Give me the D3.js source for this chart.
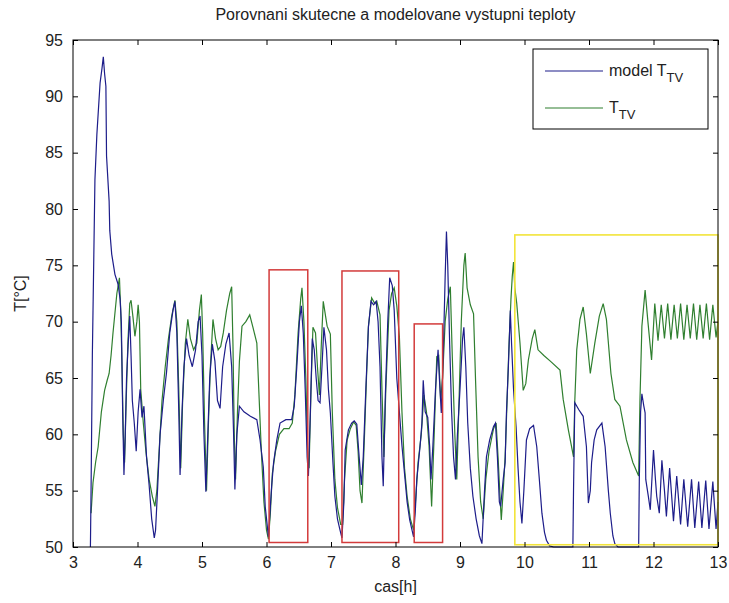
<!DOCTYPE html>
<html>
<head>
<meta charset="utf-8">
<script src="https://cdn.jsdelivr.net/npm/d3@7"></script>
<style>
  body { margin: 0; background: #fff; }
  text { font-family: "Liberation Sans", Arial, sans-serif; }
</style>
</head>
<body>
<div id="chart"></div>
<script>
const CMODEL = '#1d1d8a'
const CMEAS = '#2f7f2f'
const CRED = '#d33b3b'
const CYELLOW = '#f2e43a'

// time [h] , temperature [°C]
const modelT = [
  [3.27,50],[3.28,55],[3.30,67],[3.34,82.6],[3.37,86.6],[3.42,91.2],[3.45,92.5],[3.47,93.5],[3.49,92],
  [3.51,90.9],[3.52,84.7],[3.56,80.7],[3.57,78.1],[3.60,76],[3.65,74.2],[3.70,73.3],[3.73,72],[3.75,69.9],
  [3.77,62],[3.79,56.4],[3.81,60],[3.83,65],[3.86,68.5],[3.88,70.5],[3.90,67],[3.92,63],[3.95,61],
  [3.98,58.5],[4.01,62],[4.04,64],[4.07,61.5],[4.10,62.5],[4.14,58],[4.18,55.5],[4.22,52.5],[4.26,50.8],
  [4.28,51.5],[4.31,55],[4.35,60],[4.40,63],[4.45,65.5],[4.50,69],[4.55,71],[4.58,71.8],[4.61,69],
  [4.64,62],[4.66,56.4],[4.69,62],[4.72,66],[4.76,68.5],[4.80,67],[4.85,66],[4.90,67.5],[4.94,70],
  [4.97,70.5],[5.00,67],[5.03,60],[5.06,54.9],[5.09,60],[5.12,65],[5.16,68],[5.20,66.5],[5.24,63],
  [5.28,62.3],[5.32,66],[5.37,68],[5.42,69],[5.46,66],[5.49,60],[5.51,55.1],[5.54,60],[5.58,62.5],
  [5.65,62],[5.75,61.6],[5.85,61.3],[5.90,59.5],[5.95,57.1],[5.98,53.6],[6.03,50.9],[6.08,55.4],
  [6.11,57.5],[6.16,59.5],[6.21,61],[6.30,61.3],[6.39,61.3],[6.43,62.5],[6.47,66],[6.51,70],[6.54,71.4],
  [6.57,69],[6.60,64],[6.63,58],[6.65,56.3],[6.68,62],[6.71,68.5],[6.74,67.5],[6.77,65],[6.80,63],
  [6.83,62.8],[6.86,66],[6.89,69.5],[6.93,67.5],[6.96,64],[6.99,61.9],[7.03,57.5],[7.06,54.5],
  [7.10,52.5],[7.14,51.5],[7.17,50.8],[7.20,54],[7.22,58.6],[7.27,60.4],[7.32,61],[7.36,61.2],
  [7.40,60.9],[7.43,58.5],[7.47,55.5],[7.50,58],[7.54,64],[7.58,69.5],[7.62,71.8],[7.66,71.5],
  [7.70,71.8],[7.73,70],[7.76,66],[7.79,58],[7.81,55.4],[7.84,63],[7.88,70],[7.91,73.9],[7.95,73.2],
  [7.98,71],[8.02,65],[8.06,62],[8.10,59],[8.14,56.5],[8.18,54],[8.22,52.4],[8.28,50.9],[8.31,53.5],
  [8.33,56],[8.38,58.9],[8.41,61],[8.43,64.8],[8.46,62],[8.50,61.5],[8.53,58.9],[8.55,56],[8.58,59],
  [8.62,64],[8.66,67.5],[8.68,65],[8.71,61.9],[8.74,67],[8.77,74],[8.79,78],[8.81,75],[8.84,68],
  [8.87,62],[8.90,58],[8.93,56],[8.96,60],[9.00,64],[9.04,68.5],[9.06,69.5],[9.09,66],[9.12,61],
  [9.16,57],[9.20,54.5],[9.25,52.5],[9.30,51],[9.34,50.3],[9.38,55],[9.41,58],[9.46,59.5],[9.52,60.7],
  [9.55,61],[9.58,58],[9.61,54],[9.63,53.6],[9.67,56],[9.70,57.5],[9.72,61.9],[9.75,66],[9.78,71],
  [9.80,68],[9.83,64],[9.87,60.6],[9.90,57],[9.93,54],[9.96,52.1],[9.99,55],[10.03,59.5],[10.08,60.5],
  [10.14,60.8],[10.19,58.9],[10.23,56],[10.27,53],[10.31,51.3],[10.34,50.6],[10.39,50.1],[10.45,50],
  [10.75,50],[10.76,55],[10.78,62.8],[10.84,62.2],[10.91,61.6],[10.96,58.9],[10.99,53.9],[11.02,55],
  [11.04,57.5],[11.08,59.5],[11.12,60.4],[11.20,61],[11.25,58.9],[11.30,55],[11.33,53],[11.37,51],
  [11.40,50.3],[11.45,50],[11.77,50],[11.78,56],[11.80,62],[11.82,63.6],[11.85,62.5],[11.87,61.9],
  [11.88,56],[11.92,54.5],[11.95,53.3],[11.98,56.5],[12.00,58.6],[12.03,56],[12.05,54.5],[12.09,53],
  [12.13,57.7],[12.17,55],[12.20,52.7],[12.25,57],[12.31,52.3],[12.36,56.3],[12.42,52],[12.47,56],
  [12.53,51.8],[12.59,56],[12.64,51.7],[12.70,55.8],[12.75,51.7],[12.81,55.9],[12.86,51.6],
  [12.92,55.8],[12.97,51.6],[13.0,54]
]

const measuredT = [
  [3.28,53],[3.31,55.7],[3.35,57.5],[3.39,58.9],[3.44,62],[3.49,63.9],[3.53,64.8],[3.56,65.4],[3.59,67],
  [3.62,69],[3.68,72.5],[3.72,73.9],[3.74,71],[3.76,66],[3.78,60],[3.80,57.5],[3.82,62],[3.85,68],
  [3.88,71.6],[3.90,71.9],[3.93,70.4],[3.96,68.7],[3.99,70],[4.01,71.5],[4.03,70],[4.05,64],[4.09,61],
  [4.13,58.5],[4.18,56],[4.23,54.5],[4.27,53.6],[4.30,55],[4.34,59],[4.38,63],[4.43,66],[4.48,68.5],
  [4.53,70.5],[4.58,71.9],[4.61,70],[4.64,64],[4.67,57],[4.70,63],[4.74,68],[4.78,70.2],[4.82,68.5],
  [4.87,67.5],[4.92,68.1],[4.96,71],[4.99,72.4],[5.01,69],[5.04,61],[5.07,55],[5.10,61],[5.13,66],
  [5.17,70.2],[5.21,68.5],[5.25,67.5],[5.29,67.8],[5.33,69],[5.38,71],[5.43,72.5],[5.46,73.1],[5.48,68],
  [5.50,60],[5.52,56],[5.55,62],[5.58,66.5],[5.62,69.6],[5.68,70],[5.74,70.6],[5.79,69.5],[5.85,68.1],
  [5.88,64],[5.92,58.5],[5.96,54],[6.00,51.5],[6.03,50.7],[6.06,53],[6.09,56.5],[6.14,58.5],[6.20,60],
  [6.27,60.5],[6.35,60.5],[6.40,61],[6.44,63.5],[6.49,69],[6.53,72],[6.55,73],[6.58,70],[6.61,65],
  [6.64,58],[6.66,57],[6.69,64],[6.72,69.5],[6.76,69],[6.79,66],[6.82,63.5],[6.85,68],[6.88,71.8],
  [6.94,69.6],[6.99,68.9],[7.02,62],[7.06,56],[7.10,53.5],[7.15,52],[7.18,52],[7.21,56],[7.25,59.5],
  [7.30,60.5],[7.35,61.1],[7.39,60.8],[7.42,58.5],[7.45,55],[7.48,53.9],[7.52,60],[7.55,65],[7.58,69.6],
  [7.63,72.1],[7.68,71.6],[7.71,71.8],[7.76,70.6],[7.79,64],[7.82,58],[7.85,64],[7.90,71],[7.94,72.5],
  [7.98,73],[8.02,71.4],[8.06,68.7],[8.10,62],[8.14,57],[8.18,54.5],[8.23,52.5],[8.28,51.5],[8.31,54],
  [8.35,57.5],[8.40,60],[8.44,63.5],[8.48,62],[8.52,59],[8.56,53.6],[8.60,60],[8.64,66.9],[8.67,67],
  [8.70,63],[8.73,65],[8.77,70],[8.81,72],[8.85,73.1],[8.88,67],[8.92,60],[8.95,56],[8.98,62],[9.02,70],
  [9.06,75],[9.08,76.1],[9.11,73],[9.16,71.5],[9.21,70.7],[9.24,65],[9.28,58],[9.32,54],[9.36,52.5],
  [9.40,56],[9.45,58.5],[9.52,60.5],[9.56,61],[9.59,58],[9.62,54.5],[9.64,52.4],[9.67,55],[9.70,58],
  [9.73,63],[9.76,68],[9.79,72],[9.81,74],[9.83,75.3],[9.85,73],[9.88,71.6],[9.93,68.1],[9.98,63.9],
  [10.02,64.5],[10.06,66.6],[10.12,68.5],[10.16,69.3],[10.21,67.5],[10.30,67],[10.40,66.5],[10.55,65.7],
  [10.60,63.1],[10.68,60.4],[10.76,58.0],[10.78,63],[10.81,67.5],[10.86,70.2],[10.91,71.3],[10.96,68.9],
  [11.02,65.4],[11.09,68.1],[11.16,70.5],[11.22,71.6],[11.27,70.2],[11.34,65.4],[11.40,63.1],[11.48,62.5],
  [11.58,59.5],[11.68,57.5],[11.77,56.3],[11.79,63],[11.82,69.6],[11.87,72.8],[11.91,70.2],[11.97,66.6],
  [12.02,71.6],[12.07,68.3],[12.12,71.5],[12.17,68.5],[12.22,71.6],[12.27,68.4],[12.32,71.5],
  [12.37,68.5],[12.42,71.6],[12.47,68.4],[12.52,71.5],[12.57,68.5],[12.62,71.6],[12.67,68.4],
  [12.72,71.5],[12.77,68.5],[12.82,71.6],[12.87,68.4],[12.92,71.5],[12.97,68.6],[13.0,70]
]

const xTicks = [3,4,5,6,7,8,9,10,11,12,13]
const yTicks = [50,55,60,65,70,75,80,85,90,95]

// highlighted regions [x0, x1, y0, y1]
const redBoxes = [[6.04,6.64,50.4,74.6],[7.17,8.05,50.4,74.5],[8.29,8.73,50.4,69.8]]
const yellowBox = [9.85,13,50.2,77.7]

const width = 729
const height = 603
const margin = {top: 40, right: 11, bottom: 56, left: 73}

const svg = d3.select("#chart")
    .append("svg")
    .attr("width", width)
    .attr("height", height)

const x = d3.scaleLinear().domain([3, 13]).range([margin.left, width - margin.right])
const y = d3.scaleLinear().domain([50, 95]).range([height - margin.bottom, margin.top])

const line = d3.line()
    .x(d => x(d[0]))
    .y(d => y(d[1]))

// series
svg.append("path")
    .datum(measuredT)
    .attr("d", line)
    .attr("fill", "none")
    .attr("stroke", CMEAS)
    .attr("stroke-width", 1.2)

svg.append("path")
    .datum(modelT)
    .attr("d", line)
    .attr("fill", "none")
    .attr("stroke", CMODEL)
    .attr("stroke-width", 1.2)

// boxes
svg.append("g")
    .selectAll("rect")
    .data(redBoxes)
    .join("rect")
    .attr("x", d => x(d[0]))
    .attr("y", d => y(d[3]))
    .attr("width", d => x(d[1]) - x(d[0]))
    .attr("height", d => y(d[2]) - y(d[3]))
    .attr("fill", "none")
    .attr("stroke", CRED)
    .attr("stroke-width", 1.5)

svg.append("rect")
    .attr("x", x(yellowBox[0]))
    .attr("y", y(yellowBox[3]))
    .attr("width", x(yellowBox[1]) - x(yellowBox[0]))
    .attr("height", y(yellowBox[2]) - y(yellowBox[3]))
    .attr("fill", "none")
    .attr("stroke", CYELLOW)
    .attr("stroke-width", 1.6)

// axes, matlab style: ticks inside on all sides
const tickLen = 5
const fontSize = 16
svg.append("g")
    .attr("transform", `translate(0,${height - margin.bottom})`)
    .call(d3.axisBottom(x).tickValues(xTicks).tickSizeInner(-tickLen).tickSizeOuter(0).tickPadding(10))
svg.append("g")
    .attr("transform", `translate(0,${margin.top})`)
    .call(d3.axisTop(x).tickValues(xTicks).tickSizeInner(-tickLen).tickSizeOuter(0).tickFormat(""))
svg.append("g")
    .attr("transform", `translate(${margin.left},0)`)
    .call(d3.axisLeft(y).tickValues(yTicks).tickSizeInner(-tickLen).tickSizeOuter(0).tickPadding(10))
svg.append("g")
    .attr("transform", `translate(${width - margin.right},0)`)
    .call(d3.axisRight(y).tickValues(yTicks).tickSizeInner(-tickLen).tickSizeOuter(0).tickFormat(""))

svg.selectAll(".domain").remove()
svg.selectAll(".tick line").attr("stroke", "#000")
svg.selectAll(".tick text")
    .attr("font-size", fontSize)
    .attr("font-family", "Liberation Sans, Arial, sans-serif")
    .attr("fill", "#222")

svg.append("rect")
    .attr("x", margin.left)
    .attr("y", margin.top)
    .attr("width", width - margin.left - margin.right)
    .attr("height", height - margin.top - margin.bottom)
    .attr("fill", "none")
    .attr("stroke", "#000")
    .attr("stroke-width", 1)

// labels
svg.append("text")
    .attr("x", (margin.left + width - margin.right) / 2)
    .attr("y", 20)
    .attr("text-anchor", "middle")
    .attr("font-size", fontSize)
    .attr("fill", "#222")
    .text("Porovnani skutecne a modelovane vystupni teploty")

svg.append("text")
    .attr("x", (margin.left + width - margin.right) / 2)
    .attr("y", 592)
    .attr("text-anchor", "middle")
    .attr("font-size", fontSize)
    .attr("fill", "#222")
    .text("cas[h]")

svg.append("text")
    .attr("transform", `translate(26,${(margin.top + height - margin.bottom) / 2}) rotate(-90)`)
    .attr("text-anchor", "middle")
    .attr("font-size", fontSize)
    .attr("fill", "#222")
    .text("T[°C]")

// legend
const legend = svg.append("g")
legend.append("rect")
    .attr("x", 533).attr("y", 49)
    .attr("width", 175).attr("height", 80)
    .attr("fill", "#fff")
    .attr("stroke", "#000")

const legendItems = [
    {name: "model T", sub: "TV", color: CMODEL},
    {name: "T", sub: "TV", color: CMEAS}
]
legendItems.forEach((d, i) => {
    const ly = 71 + i * 37
    legend.append("line")
        .attr("x1", 545).attr("x2", 603)
        .attr("y1", ly).attr("y2", ly)
        .attr("stroke", d.color)
        .attr("stroke-width", 1.2)
    const t = legend.append("text")
        .attr("x", 609)
        .attr("y", ly + 5)
        .attr("font-size", fontSize)
        .attr("fill", "#222")
    t.append("tspan").text(d.name)
    t.append("tspan").attr("dy", 6).attr("font-size", 13).text(d.sub)
})
</script>
</body>
</html>
